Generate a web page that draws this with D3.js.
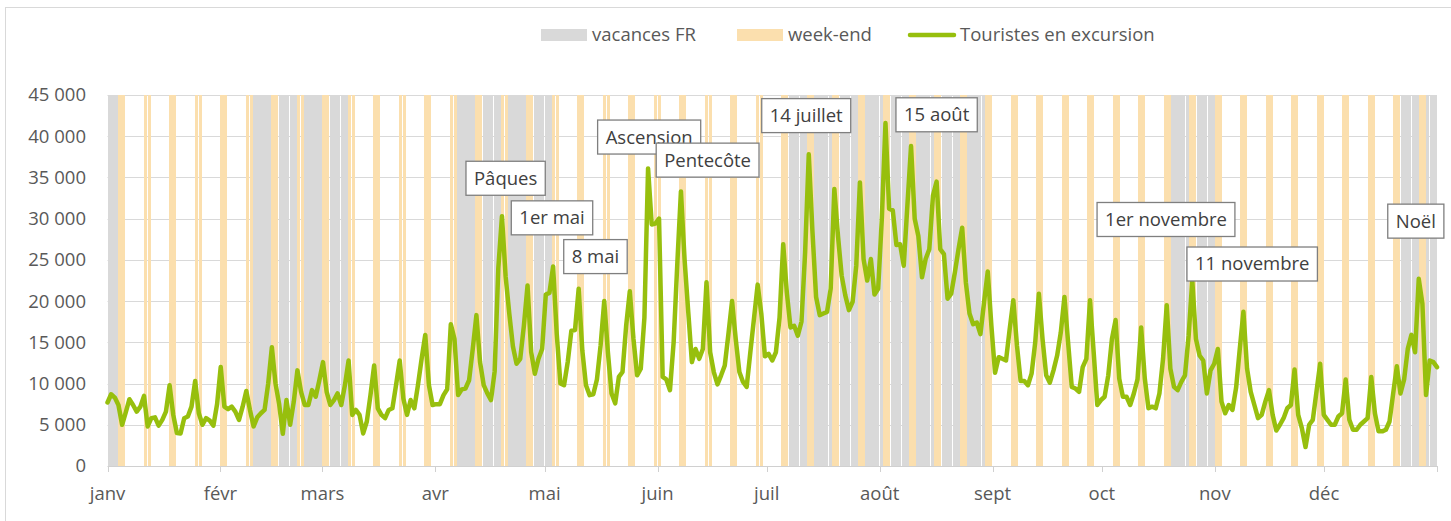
<!DOCTYPE html>
<html>
<head>
<meta charset="utf-8">
<script src="https://cdn.jsdelivr.net/npm/d3@7"></script>
<style>
  body { margin: 0; background: #fff; }
  text { font-family: "Open Sans", sans-serif; }
</style>
</head>
<body>
<svg id="chart"></svg>
<script>
var year = 2025;
var monthLabels = ["janv", "févr", "mars", "avr", "mai", "juin", "juil", "août", "sept", "oct", "nov", "déc"];
var yTicks = [0, 5000, 10000, 15000, 20000, 25000, 30000, 35000, 40000, 45000];

// school holidays (all zones merged)
var vacances = [
  ["2025-01-01", "2025-01-05"],
  ["2025-02-08", "2025-03-09"],
  ["2025-04-05", "2025-05-04"],
  ["2025-07-05", "2025-08-31"],
  ["2025-10-18", "2025-11-02"],
  ["2025-12-20", "2025-12-31"]
];

// daily tourists on excursion, 1 Jan -> 31 Dec
var touristes = [
  7700, 8700, 8300, 7400, 5000, 6500, 8100,
  7400, 6600, 7200, 8500, 4800, 5800, 5900,
  4900, 5600, 6600, 9800, 6200, 4000, 3950,
  5800, 6000, 7200, 10300, 6400, 5000, 5800,
  5500, 4900, 7500, 12000, 7200, 6900, 7200,
  6600, 5600, 7200, 9100, 6800, 4800, 5900,
  6400, 6800, 10000, 14400, 10000, 7500, 3900,
  8000, 5000, 7800, 11600, 9000, 7400, 7400,
  9200, 8400, 10400, 12600, 9000, 7400, 8000,
  8800, 7400, 9800, 12800, 6200, 6800, 6200,
  3950, 5400, 8600, 12200, 7000, 6200, 5800,
  6800, 7000, 9800, 12800, 8200, 6200, 8000,
  7000, 9800, 13000, 15900, 9800, 7400, 7500,
  7500, 8600, 9300, 17200, 15400, 8600, 9300,
  9400, 10400, 14200, 18300, 12600, 9800, 8800,
  8000, 11500, 24000, 30300, 23000, 18500, 14500,
  12400, 13000, 17000, 21900, 13800, 11200, 13000,
  14200, 20800, 21000, 24200, 16000, 10000, 9800,
  12600, 16400, 16500, 21500, 14000, 9800, 8600,
  8700, 10500, 14600, 20000, 13800, 8800, 7600,
  10800, 11400, 17000, 21200, 15400, 11000, 11800,
  18000, 36100, 29300, 29400, 30000, 10800, 10500,
  9200, 15000, 24500, 33300, 25000, 18700, 12600,
  14200, 13000, 14200, 22300, 13800, 11400, 9900,
  11000, 12200, 16000, 20000, 15400, 11400, 10200,
  9600, 13800, 17900, 22000, 18500, 13300, 13600,
  12800, 13800, 18000, 26900, 21000, 16800, 17000,
  15800, 17500, 25900, 37800, 28500, 20500, 18300,
  18500, 18700, 21500, 33600, 27900, 23100, 20700,
  18900, 19900, 24300, 34400, 25100, 22500, 25100,
  20800, 21500, 30000, 41600, 31200, 31000, 26800,
  26900, 24300, 31600, 38800, 30000, 27900, 22900,
  25100, 26300, 32800, 34500, 26300, 25700, 20300,
  20900, 23500, 26300, 28900, 22300, 18500, 17200,
  17400, 16000, 19900, 23600, 17000, 11300, 13200,
  13000, 12800, 16600, 20100, 14600, 10300, 10300,
  9800, 11200, 15000, 20900, 15400, 11000, 10100,
  11600, 13400, 16200, 20500, 15000, 9600, 9400,
  9000, 12000, 13000, 20100, 13800, 7400, 8000,
  8400, 11000, 15400, 17700, 10600, 8400, 8400,
  7400, 8800, 10500, 16800, 10600, 7000, 7200,
  7000, 8800, 13000, 19500, 11800, 9600, 9200,
  10200, 11000, 15800, 22500, 15400, 13400, 12800,
  8800, 11600, 12400, 14200, 7800, 6400, 7400,
  6800, 9500, 14200, 18700, 11800, 9000, 7400,
  5800, 6200, 7800, 9200, 6200, 4300, 5000,
  5800, 7000, 7400, 11700, 6200, 4600, 2300,
  5000, 5600, 9000, 12400, 6200, 5600, 5000,
  5000, 6000, 6400, 10500, 5600, 4400, 4400,
  5000, 5400, 5800, 10800, 6400, 4200, 4200,
  4400, 5400, 8800, 12100, 8800, 10500, 14200,
  15900, 13800, 22700, 19700, 8600, 12800, 12600,
  12000
];

// callouts: day of year and value where the label box sits
var annotations = [
  {label: "Pâques", day: 109.0, value: 34900},
  {label: "1er mai", day: 121.7, value: 30100},
  {label: "8 mai", day: 133.6, value: 25400},
  {label: "Ascension", day: 148.3, value: 39900},
  {label: "Pentecôte", day: 164.3, value: 37100},
  {label: "14 juillet", day: 191.3, value: 42500},
  {label: "15 août", day: 227.0, value: 42600},
  {label: "1er novembre", day: 289.8, value: 29900},
  {label: "11 novembre", day: 313.4, value: 24500},
  {label: "Noël", day: 358.2, value: 29700}
];

var width = 1451;
var height = 521;
var plot = {left: 107.5, right: 1437, top: 95, bottom: 466};
var nDays = touristes.length;
var fontSize = 18.5;

var parseDate = d3.timeParse("%Y-%m-%d");
var jan1 = new Date(year, 0, 1);
function dayOf(date) { return d3.timeDay.count(jan1, date); }

var svg = d3.select("#chart")
    .attr('width', width)
    .attr('height', height);

// chart frame
svg.append('rect')
    .attr('x', 5.5)
    .attr('y', 7.5)
    .attr('width', width)
    .attr('height', height)
    .attr('fill', 'none')
    .attr('stroke', '#d9d9d9');

// columns use one slot per day, line points sit on the slot edges
var xDay = d3.scaleLinear().domain([0, nDays]).range([plot.left, plot.right]);
var xPt = d3.scaleLinear().domain([0, nDays - 1]).range([plot.left, plot.right]);
var y = d3.scaleLinear().domain([0, 45000]).range([plot.bottom, plot.top]);

// background columns : week-ends and holidays
var vacRanges = vacances.map(function(v) {
  return [dayOf(parseDate(v[0])), dayOf(parseDate(v[1]))];
});
var days = d3.range(nDays).map(function(i) {
  var date = d3.timeDay.offset(jan1, i);
  var wd = date.getDay();
  var type = null;
  if (wd === 0 || wd === 6) type = 'we';
  else if (vacRanges.some(function(r) { return i >= r[0] && i <= r[1]; })) type = 'vac';
  return {i: i, type: type};
}).filter(function(d) { return d.type; });

var step = xDay(1) - xDay(0);

// gridlines
svg.append('g')
  .selectAll('line')
  .data(yTicks.filter(function(t) { return t > 0; }))
  .enter()
  .append('line')
    .attr('x1', plot.left)
    .attr('x2', plot.right)
    .attr('y1', function(d) { return Math.round(y(d)) + 0.5; })
    .attr('y2', function(d) { return Math.round(y(d)) + 0.5; })
    .attr('stroke', '#d9d9d9')
    .attr('stroke-width', 1);

svg.append('g')
    .attr('shape-rendering', 'crispEdges')
  .selectAll('rect')
  .data(days)
  .enter()
  .append('rect')
    .attr('x', function(d) { return xDay(d.i); })
    .attr('width', step - 0.22)
    .attr('y', y(45000))
    .attr('height', y(0) - y(45000))
    .attr('fill', function(d) { return d.type === 'we' ? '#fbdfae' : '#d9d9d9'; });

// x axis
var monthStarts = d3.range(12).map(function(m) { return dayOf(new Date(year, m, 1)); });
var xAxisG = svg.append('g');
xAxisG.append('line')
    .attr('x1', plot.left)
    .attr('x2', plot.right)
    .attr('y1', plot.bottom + 0.5)
    .attr('y2', plot.bottom + 0.5)
    .attr('stroke', '#d0d0d0');
xAxisG.selectAll('.tick')
  .data(monthStarts.concat([nDays]))
  .enter()
  .append('line')
    .attr('x1', function(d) { return Math.round(xDay(d)) + 0.5; })
    .attr('x2', function(d) { return Math.round(xDay(d)) + 0.5; })
    .attr('y1', plot.bottom)
    .attr('y2', plot.bottom + 6)
    .attr('stroke', '#d0d0d0');
xAxisG.selectAll('text')
  .data(monthLabels)
  .enter()
  .append('text')
    .attr('x', function(d, i) { return xDay(monthStarts[i]); })
    .attr('y', 494)
    .attr('dy', '0.35em')
    .attr('text-anchor', 'middle')
    .attr('font-size', fontSize)
    .attr('fill', '#595959')
    .text(function(d) { return d; });

// y axis labels
var fmt = function(v) { return d3.format(",")(v).replace(/,/g, "\u00a0"); };
svg.append('g')
  .selectAll('text')
  .data(yTicks)
  .enter()
  .append('text')
    .attr('x', 86)
    .attr('y', function(d) { return y(d); })
    .attr('dy', '0.35em')
    .attr('text-anchor', 'end')
    .attr('font-size', fontSize)
    .attr('fill', '#595959')
    .text(fmt);

// line
var line = d3.line()
    .x(function(d, i) { return xPt(i); })
    .y(function(d) { return y(d); });

svg.append('path')
    .datum(touristes)
    .attr('d', line)
    .attr('fill', 'none')
    .attr('stroke', '#97bf0d')
    .attr('stroke-width', 4.5)
    .attr('stroke-linejoin', 'round')
    .attr('stroke-linecap', 'round');

// callouts
var notes = svg.append('g')
  .selectAll('g')
  .data(annotations)
  .enter()
  .append('g')
    .attr('transform', function(d) { return 'translate(' + xPt(d.day) + ',' + y(d.value) + ')'; });

notes.append('rect');
notes.append('text')
    .attr('text-anchor', 'middle')
    .attr('dy', '0.35em')
    .attr('font-size', fontSize)
    .attr('fill', '#404040')
    .text(function(d) { return d.label; });
notes.each(function() {
  var g = d3.select(this);
  var w = g.select('text').node().getComputedTextLength();
  g.select('rect')
      .attr('x', -w / 2 - 8)
      .attr('y', -17)
      .attr('width', w + 16)
      .attr('height', 34)
      .attr('fill', '#fff')
      .attr('stroke', '#7f7f7f')
      .attr('stroke-width', 1.3);
});

// legend
var legend = svg.append('g').attr('font-size', fontSize).attr('fill', '#595959');
legend.append('rect').attr('x', 541).attr('y', 29).attr('width', 46).attr('height', 12).attr('fill', '#d9d9d9');
legend.append('text').attr('x', 592).attr('y', 35).attr('dy', '0.35em').text('vacances FR');
legend.append('rect').attr('x', 737).attr('y', 29).attr('width', 46).attr('height', 12).attr('fill', '#fbdfae');
legend.append('text').attr('x', 788).attr('y', 35).attr('dy', '0.35em').text('week-end');
legend.append('line').attr('x1', 910).attr('x2', 954).attr('y1', 35).attr('y2', 35)
    .attr('stroke', '#97bf0d').attr('stroke-width', 4.5).attr('stroke-linecap', 'round');
legend.append('text').attr('x', 960).attr('y', 35).attr('dy', '0.35em').text('Touristes en excursion');
</script>
</body>
</html>
